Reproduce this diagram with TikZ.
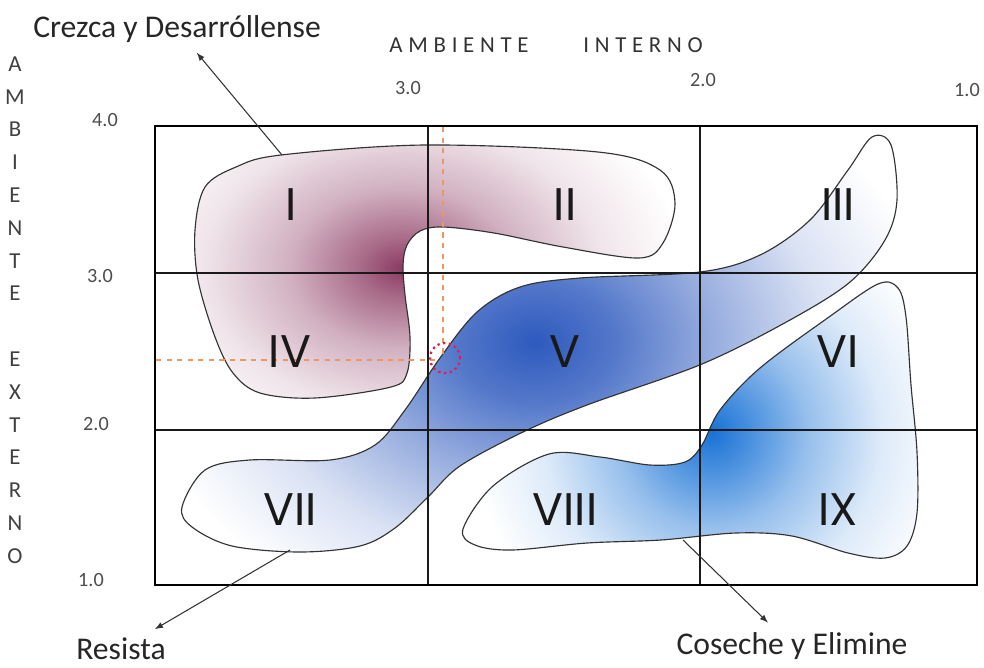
\documentclass[tikz,border=0pt]{standalone}
\usepackage{fontspec}
\setmainfont{Carlito}
\newfontfamily\numfont{Poppins}
\usepackage{tikz}
\usetikzlibrary{positioning}

\definecolor{purplec}{RGB}{140,58,98}
\definecolor{bluec}{RGB}{46,90,190}
\definecolor{blued}{RGB}{24,114,214}
\definecolor{dashc}{RGB}{236,150,100}
\definecolor{dotc}{RGB}{222,30,90}

\pgfdeclareradialshading{purpleglow}{\pgfpoint{0bp}{0bp}}{color(0bp)=(purplec); color(3bp)=(purplec!75!white); color(8bp)=(purplec!40!white); color(14bp)=(purplec!14!white); color(20bp)=(white); color(50bp)=(white)}
\pgfdeclareradialshading{blueglow}{\pgfpoint{0bp}{0bp}}{color(0bp)=(bluec); color(5bp)=(bluec!82!white); color(11bp)=(bluec!50!white); color(18bp)=(bluec!18!white); color(25bp)=(white); color(50bp)=(white)}
\pgfdeclareradialshading{bluejoin}{\pgfpoint{0bp}{0bp}}{color(0bp)=(blued); color(3bp)=(blued!80!white); color(8bp)=(blued!45!white); color(14bp)=(blued!15!white); color(20bp)=(white); color(50bp)=(white)}

% blob outlines (pixel units)
\newcommand{\blobup}{plot[smooth cycle, tension=0.55] coordinates {(205,187) (236,167) (281,155) (425,145) (598,152) (660,170) (675,203) (663,243) (639,258) (563,247) (494,233) (443,227) (420,231) (407,245) (403,265) (405,295) (410,337) (407,373) (391,387) (315,398) (260,393) (233,373) (215,337) (198,280) (195,230)}}
\newcommand{\blobdiag}{plot[smooth cycle, tension=0.55] coordinates {(182,507) (205,470) (250,460) (330,460) (375,445) (405,410) (440,358) (477,312) (520,287) (580,278) (700,272) (760,255) (810,220) (848,170) (872,137) (891,145) (897,200) (885,240) (850,282) (790,320) (702,364) (587,405) (523,432) (460,466) (428,497) (395,528) (360,546) (300,552) (232,546) (192,527)}}
\newcommand{\bloblow}{plot[smooth cycle, tension=0.55] coordinates {(463,529) (493,486) (549,454) (600,457) (650,465) (685,462) (702,445) (720,410) (760,368) (829,317) (878,284) (898,288) (906,317) (911,385) (917,452) (917,513) (907,546) (885,558) (848,553) (792,536) (736,533) (661,540) (587,543) (512,550) (475,545)}}

\tikzset{
  blobline/.style={draw=black!80, line width=0.65pt},
  gridline/.style={black!90, line width=0.7pt},
  frameline/.style={black, line width=1.6pt},
  guide/.style={dashc, dashed, line width=0.6pt},
  pointer/.style={-latex, black!80, line width=0.6pt, shorten >=3pt},
  bigtxt/.style={font=\fontsize{18}{21}\selectfont, text=black!85},
  ticktxt/.style={font=\fontsize{11.5}{13}\selectfont, text=black!70},
  axletter/.style={font=\fontsize{13}{15}\selectfont, text=black!75},
  axhead/.style={font=\fontsize{13}{15}\selectfont\addfontfeature{LetterSpace=25}, text=black!80},
  zone/.style={font=\numfont\fontsize{26}{30}\selectfont, text=black!90}
}

\begin{document}
\begin{tikzpicture}[x=0.02cm, y=-0.02cm]
    \useasboundingbox (0,0) rectangle (984,667);

    % shaded zones
    \begin{scope}
        \clip \blobup;
        \shade[shading=purpleglow] (402,268) ellipse (7cm and 5cm);
    \end{scope}
    \draw[blobline] \blobup;

    \begin{scope}
        \clip \blobdiag;
        \shade[shading=blueglow] (535,342) ellipse (8cm and 6cm);
    \end{scope}
    \draw[blobline] \blobdiag;

    \begin{scope}
        \clip \bloblow;
        \shade[shading=bluejoin] (712,432) circle (6cm);
    \end{scope}
    \draw[blobline] \bloblow;

    % matrix grid
    \draw[gridline] (428,126) -- (428,585);
    \draw[gridline] (700,126) -- (700,585);
    \draw[gridline] (155,273) -- (977,273);
    \draw[gridline] (155,430) -- (977,430);
    \draw[frameline] (155,126) rectangle (977,585);

    % position of the firm
    \draw[guide] (443,127) -- (443,356);
    \draw[guide] (156,360) -- (436,360);
    \draw[dotc, dotted, line width=1.3pt] (445,358) circle (0.3cm);

    % cells
    \node[zone] (c1) at (291,205) {I};
    \node[zone] (c2) at (565,205) {II};
    \node[zone] (c3) at (838,205) {III};
    \node[zone] (c4) at (290,352) {IV};
    \node[zone] (c5) at (565,352) {V};
    \node[zone] (c6) at (838,352) {VI};
    \node[zone] (c7) at (290,510) {VII};
    \node[zone] (c8) at (565,510) {VIII};
    \node[zone] (c9) at (838,510) {IX};

    % axes
    \node[axhead] (ambint) at (459,45) {AMBIENTE};
    \node[axhead] (intint) at (643,45) {INTERNO};
    \node[ticktxt] (xt3) at (408,88) {3.0};
    \node[ticktxt] (xt2) at (703,80) {2.0};
    \node[ticktxt] (xt1) at (967,90) {1.0};
    \node[ticktxt] (yt4) at (105,120) {4.0};
    \node[ticktxt] (yt3) at (100,276) {3.0};
    \node[ticktxt] (yt2) at (96,424) {2.0};
    \node[ticktxt] (yt1) at (91,580) {1.0};
    \foreach \ch [count=\i from 0] in {A,M,B,I,E,N,T,E}
        \node[axletter] (amb-\i) at (15,64+32.8*\i) {\ch};
    \foreach \ch [count=\i from 9] in {E,X,T,E,R,N,O}
        \node[axletter] (ext-\i) at (15,64+32.8*\i) {\ch};

    % strategies
    \node[bigtxt] (crezca) at (177,29) {Crezca y Desarróllense};
    \node[bigtxt] (resista) at (121,649) {Resista};
    \node[bigtxt] (coseche) at (792,646) {Coseche y Elimine};

    \coordinate (crezca-tail) at (282,155);
    \coordinate (resista-tail) at (290,550);
    \coordinate (coseche-tail) at (683,540);
    \draw[pointer] (crezca-tail) -- (crezca);
    \draw[pointer] (resista-tail) -- (resista);
    \draw[pointer] (coseche-tail) -- (coseche);
\end{tikzpicture}
\end{document}
